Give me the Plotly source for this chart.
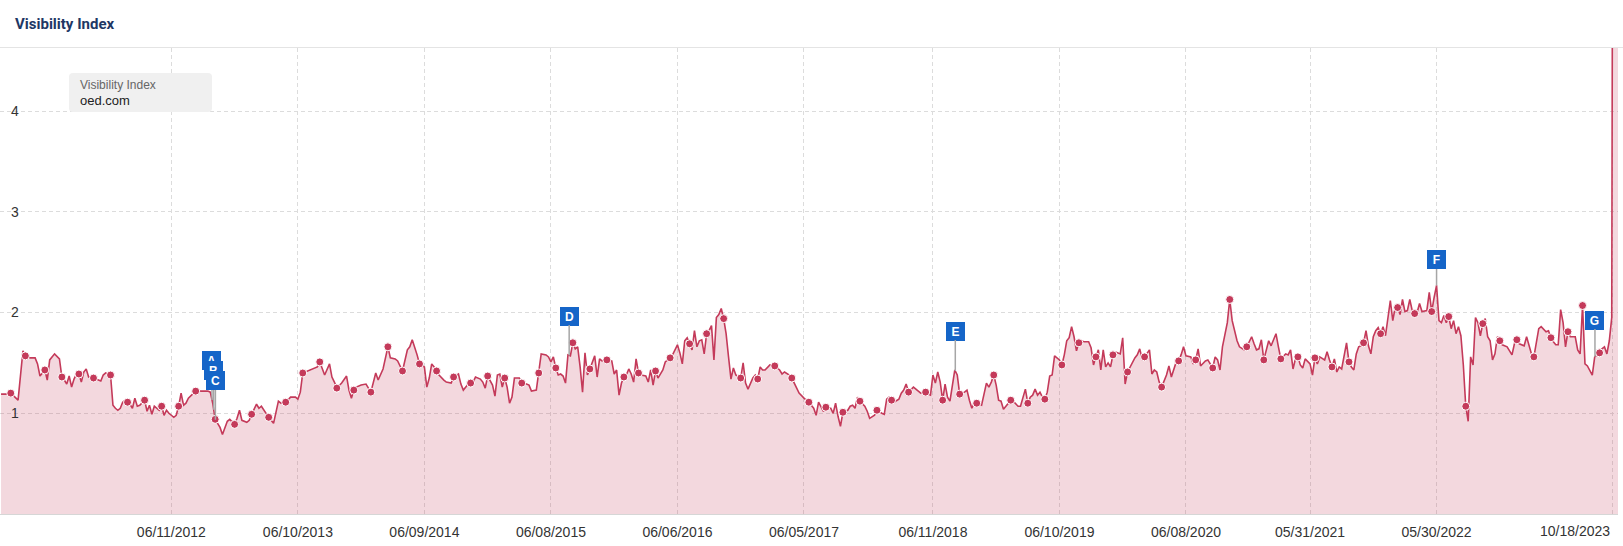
import numpy as np
import pandas as pd
import plotly.graph_objects as go

# ---------------- data ----------------
chart_title = "Visibility Index"
legend_series = "Visibility Index"
legend_domain = "oed.com"
start_date = "2011-02-07"   # week 0 (weekly Monday values)

weeks = [
    0, 2, 4, 7, 9, 10, 12, 14, 15, 16, 18, 19, 20, 22, 24, 25, 26, 27, 28, 29,
    30, 31, 32, 33, 34, 35, 36, 38, 40, 41, 42, 43, 45, 46, 47, 48, 49, 50, 51, 52,
    53, 54, 55, 56, 57, 59, 60, 61, 62, 63, 64, 65, 66, 67, 68, 69, 71, 72, 73, 74,
    75, 76, 77, 79, 80, 82, 85, 86, 87, 88, 90, 91, 93, 94, 96, 97, 98, 99, 101, 102,
    103, 105, 106, 107, 108, 110,
    112, 114, 115, 117, 119, 121, 122, 123, 124, 126, 128, 130, 131, 133, 135, 136, 137, 138, 140, 142,
    143, 144, 145, 146, 148, 150, 152, 153, 154, 155, 157, 159, 160, 162, 163, 165, 167, 168, 169, 171,
    172, 174, 175, 176, 177, 178, 179, 180, 182, 183, 185, 186, 188, 189, 190, 192, 193, 194, 195, 197,
    198, 199, 200, 202, 203, 204, 205, 206, 207, 208, 209, 210, 211, 213, 214, 215, 217, 218, 220, 221,
    222,
    224, 225, 226, 227, 228, 229, 230, 231, 232, 233, 234, 235, 236, 237, 238, 239, 240, 241, 242, 243,
    244, 245, 246, 247, 249, 251, 252, 253, 254, 255, 256, 257, 258, 259, 260, 261, 262, 263, 265, 266,
    267, 268, 269, 270, 272, 273, 275, 276, 278, 279, 280, 281, 282, 283, 284, 285, 286, 287, 288, 289,
    290, 291, 292, 293, 294, 295, 296, 297, 298, 299, 300, 301, 302, 304, 305, 306, 307, 309, 310, 311,
    312, 313, 314, 316, 318, 320, 321, 322, 324, 325, 326, 327, 328, 330, 332,
    334, 335, 336, 338, 339, 341, 342, 343, 344, 345, 346, 348, 349, 350, 351, 352, 353, 355, 356, 357,
    359, 360, 362, 363, 364, 365, 366, 367, 369, 370, 371, 372, 373, 374, 375, 377, 378, 380, 381, 382,
    383, 384, 385, 386, 387, 388, 389, 390, 391, 392, 393, 394, 396, 397, 398, 399, 400, 401, 403, 404,
    405, 406, 407, 408, 409, 410, 411, 412, 413, 415, 416, 418, 419, 420, 421, 422, 423, 424, 425, 426,
    427, 428, 429, 430, 431, 432, 433, 435, 436, 437, 438, 439, 440, 441, 442, 443, 444,
    445, 447, 448, 449, 450, 451, 452, 453, 454, 455, 456, 457, 458, 460, 461, 462, 463, 464, 466, 467,
    468, 469, 470, 472, 473, 474, 475, 476, 477, 479, 480, 481, 483, 484, 485, 486, 487, 489, 490, 491,
    492, 493, 495, 496, 497, 498, 499, 500, 501, 502, 504, 505, 506, 507, 508, 509, 511, 512, 514, 515,
    516, 517, 518, 519, 520, 521, 522, 524, 525, 526, 528, 529, 530, 531, 532, 533, 534, 535, 536, 538,
    539, 540, 541, 542, 544, 545, 546, 547, 548, 549, 550, 551, 553, 554, 555,
    556, 557, 558, 559, 560, 561, 562, 563, 564, 565, 566, 567, 568, 569, 570, 571, 572, 573, 574, 575,
    576, 577, 578, 579, 580, 581, 582, 583, 584, 586, 587, 588, 589, 590, 591, 592, 593, 594, 595, 596,
    597, 598, 599, 600, 601, 602, 603, 604, 605, 606, 607, 608, 609, 610, 611, 612, 613, 614, 615, 616,
    617, 619, 620, 621, 622, 623, 624, 626, 627, 628, 629, 630, 631, 632, 633, 635, 636, 637, 638, 639,
    640, 641, 642, 643, 644, 645, 646, 647, 648, 649, 650, 651, 652, 653, 654, 655, 657, 658, 659, 660,
    661, 662, 662.6, 664.6,
]

values = [
    1.19, 1.19, 1.20, 1.13, 1.62, 1.57, 1.55, 1.55, 1.49, 1.37, 1.43, 1.33, 1.53, 1.59, 1.54, 1.36, 1.33, 1.29, 1.37, 1.26,
    1.34, 1.39, 1.39, 1.31, 1.41, 1.44, 1.36, 1.35, 1.33, 1.32, 1.38, 1.40, 1.38, 1.08, 1.05, 1.03, 1.05, 1.11, 1.13, 1.11,
    1.09, 1.05, 1.15, 1.07, 1.08, 1.13, 1.02, 1.08, 0.99, 1.07, 1.05, 1.03, 1.07, 0.98, 1.03, 1.00, 0.96, 0.98, 1.07, 1.20,
    1.08, 1.10, 1.15, 1.20, 1.22, 1.22, 1.22, 1.21, 1.10, 0.94, 0.86, 0.79, 0.92, 0.94, 0.89, 0.95, 1.03, 0.93, 0.91, 0.93,
    0.99, 1.09, 1.05, 1.07, 1.03, 0.96,
    0.90, 1.12, 1.10, 1.11, 1.16, 1.16, 1.14, 1.21, 1.40, 1.42, 1.44, 1.46, 1.51, 1.38, 1.49, 1.36, 1.31, 1.25, 1.30, 1.37,
    1.23, 1.15, 1.23, 1.26, 1.28, 1.29, 1.21, 1.30, 1.40, 1.33, 1.44, 1.66, 1.55, 1.54, 1.52, 1.42, 1.63, 1.66, 1.73, 1.58,
    1.49, 1.46, 1.26, 1.35, 1.49, 1.46, 1.42, 1.38, 1.33, 1.31, 1.30, 1.36, 1.39, 1.29, 1.23, 1.29, 1.30, 1.31, 1.36, 1.34,
    1.31, 1.25, 1.37, 1.28, 1.17, 1.38, 1.39, 1.26, 1.35, 1.26, 1.10, 1.16, 1.35, 1.35, 1.30, 1.30, 1.28, 1.22, 1.23, 1.40,
    1.59,
    1.58, 1.56, 1.51, 1.56, 1.45, 1.38, 1.39, 1.37, 1.30, 1.58, 1.57, 1.70, 1.64, 1.66, 1.46, 1.21, 1.60, 1.38, 1.44, 1.50,
    1.57, 1.36, 1.54, 1.52, 1.53, 1.52, 1.39, 1.43, 1.18, 1.30, 1.36, 1.38, 1.44, 1.39, 1.31, 1.54, 1.40, 1.38, 1.37, 1.31,
    1.43, 1.28, 1.42, 1.35, 1.43, 1.51, 1.55, 1.58, 1.68, 1.60, 1.49, 1.72, 1.75, 1.69, 1.63, 1.82, 1.66, 1.72, 1.73, 1.59,
    1.79, 1.82, 1.87, 1.53, 1.95, 1.98, 2.04, 1.94, 1.79, 1.56, 1.34, 1.45, 1.38, 1.35, 1.50, 1.30, 1.24, 1.35, 1.38, 1.34,
    1.46, 1.43, 1.43, 1.48, 1.47, 1.43, 1.39, 1.41, 1.38, 1.35, 1.30, 1.26, 1.20, 1.15, 1.11,
    1.05, 0.98, 1.11, 1.02, 1.06, 1.05, 1.00, 1.10, 0.97, 0.87, 1.01, 1.03, 1.07, 1.08, 1.05, 1.16, 1.12, 1.07, 1.02, 0.95,
    0.98, 1.03, 1.00, 0.99, 1.14, 1.16, 1.13, 1.11, 1.14, 1.20, 1.23, 1.29, 1.21, 1.24, 1.26, 1.22, 1.20, 1.21, 1.19, 1.18,
    1.38, 1.30, 1.41, 1.31, 1.13, 1.29, 1.16, 1.12, 1.26, 1.43, 1.38, 1.19, 1.21, 1.23, 1.13, 1.05, 1.10, 1.10, 1.08, 1.20,
    1.30, 1.26, 1.31, 1.38, 1.28, 1.13, 1.12, 1.04, 1.07, 1.13, 1.12, 1.07, 1.07, 1.15, 1.24, 1.10, 1.16, 1.18, 1.24, 1.18,
    1.21, 1.16, 1.14, 1.21, 1.37, 1.38, 1.57, 1.53, 1.48, 1.58, 1.72, 1.75, 1.86, 1.76, 1.62, 1.70, 1.72,
    1.71, 1.71, 1.65, 1.48, 1.56, 1.63, 1.43, 1.63, 1.46, 1.50, 1.46, 1.58, 1.61, 1.59, 1.75, 1.29, 1.41, 1.46, 1.55, 1.58,
    1.64, 1.54, 1.56, 1.63, 1.39, 1.43, 1.41, 1.31, 1.26, 1.38, 1.47, 1.36, 1.51, 1.52, 1.58, 1.66, 1.57, 1.56, 1.49, 1.53,
    1.64, 1.47, 1.52, 1.53, 1.49, 1.45, 1.56, 1.53, 1.43, 1.66, 1.90, 2.13, 1.92, 1.82, 1.72, 1.66, 1.63, 1.66, 1.76, 1.69,
    1.63, 1.64, 1.73, 1.53, 1.63, 1.72, 1.67, 1.79, 1.66, 1.54, 1.59, 1.58, 1.63, 1.44, 1.54, 1.56, 1.48, 1.45, 1.54, 1.49,
    1.38, 1.55, 1.49, 1.56, 1.53, 1.61, 1.53, 1.46, 1.54, 1.41, 1.46, 1.44, 1.70, 1.51, 1.46,
    1.43, 1.59, 1.66, 1.67, 1.70, 1.82, 1.67, 1.59, 1.76, 1.82, 1.85, 1.79, 1.86, 1.77, 1.95, 2.12, 1.92, 2.05, 2.05, 1.98,
    2.13, 2.01, 2.02, 2.13, 2.02, 1.99, 2.00, 2.09, 2.01, 2.02, 2.20, 2.01, 2.15, 2.27, 1.92, 1.90, 1.97, 1.90, 1.96, 1.84,
    1.92, 1.79, 1.86, 1.77, 1.48, 1.07, 0.92, 1.56, 1.48, 1.95, 1.90, 1.77, 1.89, 1.94, 1.76, 1.72, 1.53, 1.59, 1.76, 1.72,
    1.68, 1.66, 1.62, 1.58, 1.69, 1.73, 1.69, 1.67, 1.76, 1.66, 1.59, 1.56, 1.69, 1.84, 1.86, 1.81, 1.82, 1.75, 1.71, 1.68,
    1.68, 2.03, 1.90, 1.66, 1.81, 1.76, 1.76, 1.76, 1.63, 1.59, 2.07, 1.49, 1.47, 1.43, 1.38, 1.56, 1.60, 1.64, 1.66, 1.59,
    1.72, 1.95, 9.00, 9.00,
]

dot_weeks = [
    4, 10, 18, 25, 32, 38, 45, 52, 59, 66, 73, 80, 88, 96, 103, 110,
    117, 124, 131, 138, 145, 152, 159, 165, 172, 179, 186, 193, 200, 207, 214, 221,
    228, 235, 242, 249, 256, 262, 269, 275, 283, 290, 297, 304, 311, 318, 325, 332,
    339, 346, 353, 360, 366, 373, 380, 387, 394, 401, 408, 415, 422, 429, 436, 443,
    450, 457, 463, 470, 477, 484, 491, 498, 505, 512, 519, 526, 533, 540, 547, 554,
    560, 567, 574, 581, 588, 595, 602, 609, 616, 623, 630, 637, 644, 650, 657,
]

x_tick_labels = ["06/11/2012", "06/10/2013", "06/09/2014", "06/08/2015", "06/06/2016",
                 "06/05/2017", "06/11/2018", "06/10/2019", "06/08/2020", "05/31/2021",
                 "05/30/2022", "10/18/2023"]
y_ticks = [1, 2, 3, 4]

flag_labels = ["A", "B", "C", "D", "E", "F", "G"]
flag_weeks = [86.7, 87.4, 88.1, 233.5, 392.2, 590.0, 655.1]

x_range = ["2011-02-04", "2023-11-03"]
y_range = [0, 4.627]

# ---------------- layout constants (pixels) ----------------
W, H = 1623, 546
ML, MR, MT, MB = 0, 5, 48, 32
PW, PH = W - ML - MR, H - MT - MB
flag_box_center_py = [361, 371, 381, 316, 331, 260, 320]

LINE = "#c43a5a"
FILL = "rgba(196,58,90,0.20)"
GRID = "#dcdcdc"
FLAG = "#1565c8"
TICKFONT = dict(family="Arial, Liberation Sans", size=14, color="#333333")


def pxx(px):
    return (px - ML) / PW


def pxy(py):
    return (H - MB - py) / PH


t0 = pd.Timestamp(start_date)


def week_to_date(w):
    return t0 + pd.to_timedelta(np.asarray(w, dtype=float) * 7, unit="D")


dates = week_to_date(weeks)
val_by_week = dict(zip(weeks, values))
dot_dates = week_to_date(dot_weeks)
dot_vals = [val_by_week[w] for w in dot_weeks]
tick_dates = pd.to_datetime(x_tick_labels, format="%m/%d/%Y")

fig = go.Figure()
fig.add_trace(go.Scatter(
    x=dates, y=values, mode="lines",
    line=dict(color=LINE, width=1.6),
    fill="tozeroy", fillcolor=FILL,
    hoverinfo="skip", showlegend=False,
))
fig.add_trace(go.Scatter(
    x=dot_dates, y=dot_vals, mode="markers",
    marker=dict(color=LINE, size=8, line=dict(color="white", width=1)),
    hoverinfo="skip", showlegend=False,
))

annotations = []
# flags
for lab, fw, cy in zip(flag_labels, flag_weeks, flag_box_center_py):
    v = float(np.interp(fw, weeks, values))
    py_point = H - MB - v / y_range[1] * PH
    annotations.append(dict(
        x=week_to_date([fw])[0], y=v, xref="x", yref="y",
        text="<b>%s</b>" % lab, showarrow=True, arrowhead=0,
        arrowwidth=1.5, arrowcolor="#a6a6a6", ax=0, ay=cy - py_point,
        bgcolor=FLAG, bordercolor=FLAG, borderwidth=1, borderpad=2,
        width=13, height=13,
        font=dict(family="Arial, Liberation Sans", size=12, color="white"),
    ))

# last x tick label right-aligned inside chart
annotations.append(dict(
    x=tick_dates[-1], y=0, xref="x", yref="paper", yanchor="top", xanchor="right",
    text=x_tick_labels[-1], showarrow=False, yshift=-7,
    font=TICKFONT,
))

# legend box texts
annotations.append(dict(
    x=pxx(78), y=pxy(85), xref="paper", yref="paper", xanchor="left", yanchor="middle",
    text=legend_series, showarrow=False,
    font=dict(family="Arial, Liberation Sans", size=12, color="#666666"),
))
annotations.append(dict(
    x=pxx(78), y=pxy(100), xref="paper", yref="paper", xanchor="left", yanchor="middle",
    text=legend_domain, showarrow=False,
    font=dict(family="Arial, Liberation Sans", size=13, color="#222222"),
))
# title
annotations.append(dict(
    x=pxx(13), y=pxy(24), xref="paper", yref="paper", xanchor="left", yanchor="middle",
    text="<b>%s</b>" % chart_title, showarrow=False,
    font=dict(family="Roboto, Arial", size=15, color="#1e3764"),
))


def rounded_rect(x0, y0, x1, y1, r):
    X = lambda p: pxx(p)
    Y = lambda p: pxy(p)
    return (f"M {X(x0+r)},{Y(y0)} L {X(x1-r)},{Y(y0)} Q {X(x1)},{Y(y0)} {X(x1)},{Y(y0+r)} "
            f"L {X(x1)},{Y(y1-r)} Q {X(x1)},{Y(y1)} {X(x1-r)},{Y(y1)} "
            f"L {X(x0+r)},{Y(y1)} Q {X(x0)},{Y(y1)} {X(x0)},{Y(y1-r)} "
            f"L {X(x0)},{Y(y0+r)} Q {X(x0)},{Y(y0)} {X(x0+r)},{Y(y0)} Z")


shapes = [
    dict(type="path", xref="paper", yref="paper", path=rounded_rect(69, 73, 212, 112, 4),
         fillcolor="#f0f0f0", line=dict(width=0), layer="above"),
    dict(type="line", xref="paper", yref="paper", x0=pxx(0), x1=pxx(W), y0=pxy(47.5), y1=pxy(47.5),
         line=dict(color="#e4e4e4", width=1)),
]

fig.update_layout(
    width=W, height=H,
    margin=dict(l=ML, r=MR, t=MT, b=MB, pad=0),
    paper_bgcolor="white", plot_bgcolor="white",
    showlegend=False,
    annotations=annotations, shapes=shapes,
    xaxis=dict(
        type="date", range=x_range,
        tickvals=tick_dates, ticktext=x_tick_labels[:-1] + [""],
        showgrid=True, gridcolor=GRID, griddash="4px,3px", gridwidth=1,
        showline=True, linecolor="#d6d6d6", linewidth=1,
        ticks="", ticklabelstandoff=5,
        tickfont=TICKFONT,
        zeroline=False, fixedrange=True,
    ),
    yaxis=dict(
        range=y_range, tickvals=y_ticks, ticktext=[str(t) for t in y_ticks],
        showgrid=True, gridcolor=GRID, griddash="4px,3px", gridwidth=1,
        ticklabelposition="inside", ticklabelstandoff=8,
        tickfont=TICKFONT,
        zeroline=False, showline=False, ticks="", fixedrange=True,
    ),
)

fig.write_html(
    "out.html",
    config={"displayModeBar": False},
    post_script="document.body.style.margin='0px';document.body.style.overflow='hidden';",
)
